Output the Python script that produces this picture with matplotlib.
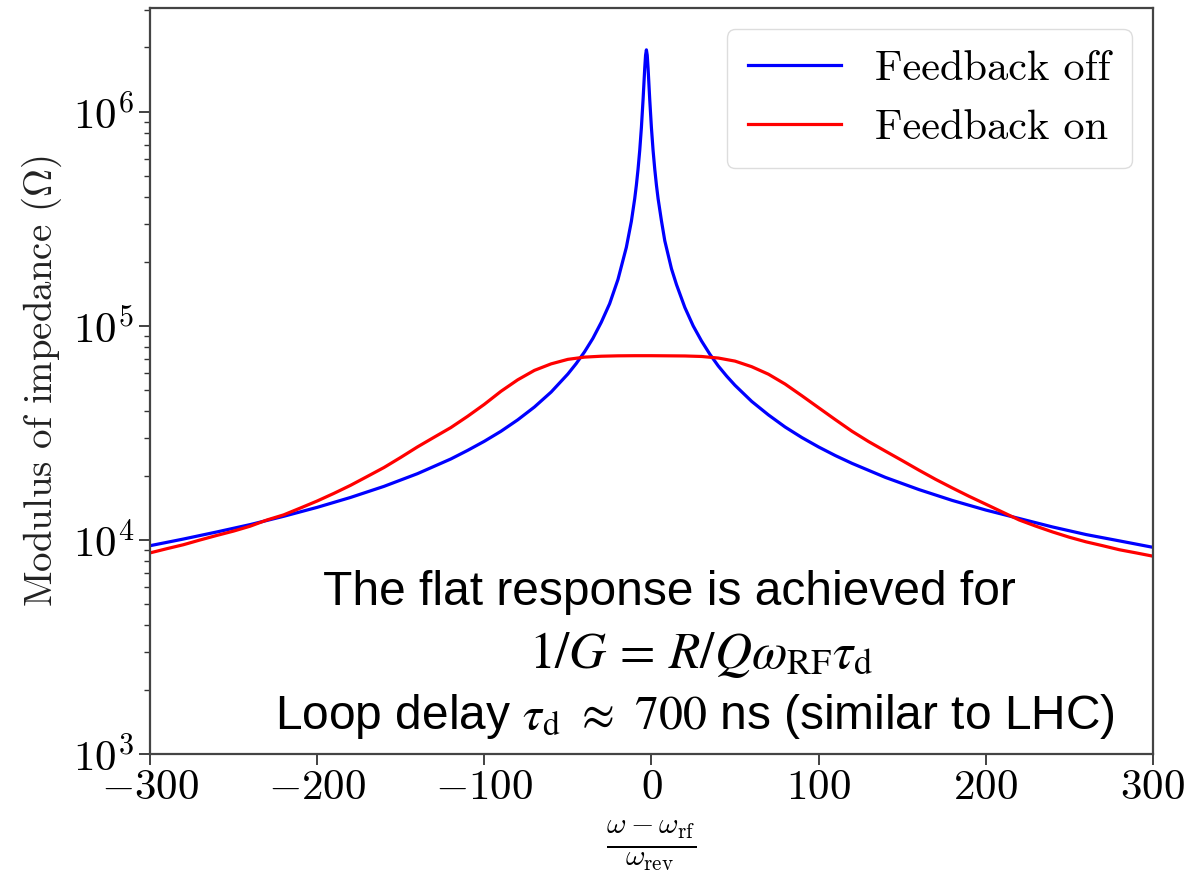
import matplotlib
matplotlib.use("Agg")
import matplotlib.pyplot as plt

# ---- data ----
x_off = [-300, -280, -260, -240, -220, -200, -180, -160, -140, -120, -110, -100,
         -90, -80, -70, -60, -50, -45, -40, -35, -30, -25, -20, -15, -12, -10,
         -9, -8, -7, -6, -5, -4.5, -4, -3.5, -3, -2.5, -2, -1.5, -1, 0, 1, 2,
         3, 4, 6, 8, 10, 12, 15, 20, 25, 30, 35, 40, 45, 50, 60, 70, 80, 90,
         100, 110, 120, 140, 160, 180, 200, 220, 240, 260, 280, 300]
z_off = [9.4e3, 1.01e4, 1.09e4, 1.18e4, 1.29e4, 1.42e4, 1.58e4, 1.78e4, 2.04e4,
         2.39e4, 2.62e4, 2.89e4, 3.22e4, 3.64e4, 4.18e4, 4.91e4, 5.96e4, 6.67e4,
         7.57e4, 8.75e4, 1.04e5, 1.27e5, 1.65e5, 2.33e5, 3.08e5, 3.93e5, 4.55e5,
         5.4e5, 6.6e5, 8.44e5, 1.14e6, 1.35e6, 1.6e6, 1.84e6, 1.95e6, 1.84e6,
         1.6e6, 1.35e6, 1.14e6, 8.44e5, 6.6e5, 5.4e5, 4.55e5, 3.93e5, 3.1e5,
         2.5e5, 2.15e5, 1.85e5, 1.56e5, 1.22e5, 1.0e5, 8.5e4, 7.37e4, 6.5e4,
         5.83e4, 5.28e4, 4.44e4, 3.84e4, 3.37e4, 3.01e4, 2.72e4, 2.48e4, 2.28e4,
         1.96e4, 1.72e4, 1.53e4, 1.38e4, 1.26e4, 1.15e4, 1.06e4, 9.9e3, 9.24e3]

x_on = [-300, -290, -280, -270, -260, -250, -240, -230, -220, -210, -200, -190,
        -180, -170, -160, -150, -140, -130, -120, -110, -100, -90, -80, -70,
        -60, -50, -40, -30, -20, -10, 0, 10, 20, 30, 40, 50, 60, 70, 80, 90,
        100, 110, 120, 130, 140, 150, 160, 170, 180, 190, 200, 210, 220, 230,
        240, 250, 260, 270, 280, 290, 300]
z_on = [8.7e3, 9.1e3, 9.5e3, 1.0e4, 1.05e4, 1.1e4, 1.16e4, 1.24e4, 1.31e4,
        1.41e4, 1.52e4, 1.65e4, 1.8e4, 1.98e4, 2.18e4, 2.43e4, 2.72e4, 3.02e4,
        3.35e4, 3.78e4, 4.3e4, 4.95e4, 5.6e4, 6.2e4, 6.65e4, 6.98e4, 7.15e4,
        7.22e4, 7.25e4, 7.26e4, 7.26e4, 7.25e4, 7.24e4, 7.2e4, 7.08e4, 6.85e4,
        6.45e4, 5.95e4, 5.35e4, 4.72e4, 4.15e4, 3.65e4, 3.22e4, 2.88e4, 2.6e4,
        2.35e4, 2.12e4, 1.92e4, 1.75e4, 1.6e4, 1.47e4, 1.35e4, 1.24e4, 1.16e4,
        1.09e4, 1.03e4, 9.8e3, 9.4e3, 9.0e3, 8.7e3, 8.4e3]

labels = ["Feedback off", "Feedback on"]
xticks = [-300, -200, -100, 0, 100, 200, 300]

plt.rcParams["font.family"] = "cmr10"
plt.rcParams["mathtext.fontset"] = "cm"
plt.rcParams["axes.formatter.use_mathtext"] = True
plt.rcParams["axes.unicode_minus"] = False

fig = plt.figure(figsize=(11.91, 8.75), dpi=100)
ax = fig.add_axes([0.1259, 0.1383, 0.968 - 0.1259, 0.9909 - 0.1383])

ax.plot(x_off, z_off, color="#0000ff", lw=2.3, label=labels[0])
ax.plot(x_on, z_on, color="#ff0000", lw=2.3, label=labels[1])

ax.set_yscale("log")
ax.set_xlim(-300, 300)
ax.set_ylim(1e3, 3.06e6)
ax.set_xticks(xticks)
ax.set_xticklabels([f"${t}$" for t in xticks])

ax.tick_params(axis="both", which="major", labelsize=31, length=8, width=1.3,
               direction="out", color="#333333")
ax.tick_params(axis="y", which="minor", length=4.5, width=1.0, color="#333333")
for s in ax.spines.values():
    s.set_linewidth(1.6)
    s.set_color("#444444")

ax.set_ylabel(r"Modulus of impedance ($\Omega$)", fontsize=28, color="#222222",
              labelpad=6)
ax.set_xlabel(r"$\frac{\omega-\omega_{\rm rf}}{\omega_{\rm rev}}$", fontsize=31,
              labelpad=8)

leg = ax.legend(loc="upper right", fontsize=30.5, handlelength=2.2,
                handletextpad=0.8, borderpad=0.5, labelspacing=0.5,
                fancybox=True, framealpha=1.0, edgecolor="#dddddd",
                bbox_to_anchor=(1.0, 1.0), borderaxespad=0.5)
leg.get_frame().set_linewidth(1.0)

tkw = dict(transform=ax.transData, ha="center", va="center", color="black",
           family="Liberation Sans", math_fontfamily="stix")
ax.text(11, 10 ** (3 + (754 - 593) / 214), "The flat response is achieved for",
        fontsize=34.5, **tkw)
ax.text(30, 10 ** (3 + (754 - 655) / 214),
        r"$1/G\,=\,R/Q\omega_{\rm RF}\tau_{\rm d}$", fontsize=37, **tkw)
ax.text(26, 10 ** (3 + (754 - 717) / 214),
        r"Loop delay $\tau_{\rm d}$ $\approx$ $700$ ns (similar to LHC)",
        fontsize=34.5, **tkw)

fig.savefig("out.png", dpi=100)
